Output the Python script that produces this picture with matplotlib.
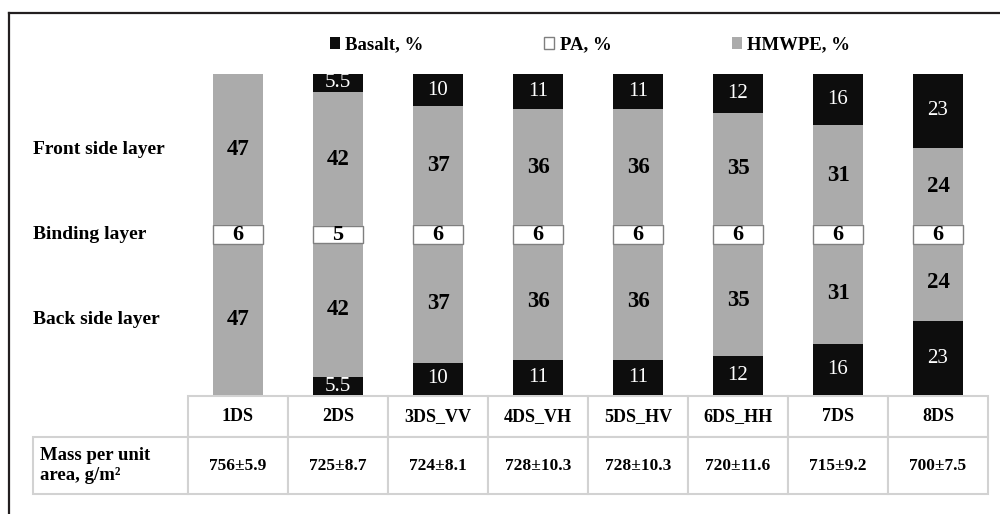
import numpy as np
import matplotlib
matplotlib.use('Agg')
import matplotlib.pyplot as plt
from matplotlib.lines import Line2D

plt.rcParams['font.family'] = ['Liberation Serif', 'DejaVu Serif']

# data
samples = ['1DS', '2DS', '3DS_VV', '4DS_VH', '5DS_HV', '6DS_HH', '7DS', '8DS']
basalt_back = [0, 5.5, 10, 11, 11, 12, 16, 23]
hmwpe_back = [47, 42, 37, 36, 36, 35, 31, 24]
pa_binding = [6, 5, 6, 6, 6, 6, 6, 6]
hmwpe_front = [47, 42, 37, 36, 36, 35, 31, 24]
basalt_front = [0, 5.5, 10, 11, 11, 12, 16, 23]
mass = ['756±5.9', '725±8.7', '724±8.1', '728±10.3',
        '728±10.3', '720±11.6', '715±9.2', '700±7.5']
mass_label = 'Mass per unit\narea, g/m²'
layer_names = ['Back side layer', 'Binding layer', 'Front side layer']
legend_names = ['Basalt, %', 'PA, %', 'HMWPE, %']

BLACK = '#0d0d0d'
GRAY = '#ababab'
W, H = 1000, 514

fig = plt.figure(figsize=(10, 5.14), dpi=100)
# bar area in pixels: x 188..988, y 74..395
ax = fig.add_axes([188 / W, (H - 395) / H, 800 / W, 321 / H])
ax.set_xlim(0, 8)
ax.set_ylim(0, 100)
ax.axis('off')

x = np.arange(len(samples)) + 0.5
layers = [
    (basalt_back, BLACK, 'none', 'white', 'normal', 15),
    (hmwpe_back, GRAY, 'none', 'black', 'bold', 16.5),
    (pa_binding, 'white', '#7f7f7f', 'black', 'bold', 16),
    (hmwpe_front, GRAY, 'none', 'black', 'bold', 16.5),
    (basalt_front, BLACK, 'none', 'white', 'normal', 15),
]
bottom = np.zeros(len(samples))
containers = []
for vals, color, edge, tcolor, weight, fs in layers:
    bars = ax.bar(x, vals, 0.5, bottom=bottom, color=color,
                  edgecolor=edge, linewidth=1.0)
    labels = [f'{v:g}' if v else '' for v in vals]
    ax.bar_label(bars, labels=labels, label_type='center', color=tcolor,
                 fontsize=fs, fontweight=weight)
    containers.append(bars)
    bottom += np.array(vals)

# layer names on the left
layer_y = [hmwpe_back[0] / 2,
           hmwpe_back[0] + pa_binding[0] / 2,
           hmwpe_back[0] + pa_binding[0] + hmwpe_front[0] / 2]
for name, yy in zip(layer_names, layer_y):
    ax.text(-155 / 800, yy, name, transform=ax.get_yaxis_transform(),
            ha='left', va='center', fontsize=14, fontweight='bold')

# legend
fig.legend([containers[0], containers[2], containers[1]], legend_names,
           loc='center', bbox_to_anchor=(590 / W, 1 - 45 / H), ncol=3,
           frameon=False, handlelength=0.55, handleheight=0.55,
           handletextpad=0.3, columnspacing=6.4,
           prop={'weight': 'bold', 'size': 13.5})

# table below bars; first column holds the row label
tbl = ax.table(cellText=[[mass_label] + mass], colLabels=[''] + samples,
               cellLoc='center',
               bbox=[-155 / 800, -99 / 321, 955 / 800, 98 / 321])
tbl.auto_set_font_size(False)
tbl.set_fontsize(13)
for (r, c), cell in tbl.get_celld().items():
    cell.set_edgecolor('#d2d2d2')
    cell.set_linewidth(1.5)
    cell.set_height(41 if r == 0 else 57)
    cell.set_width(155 if c == 0 else 100)
    cell.get_text().set_fontweight('bold')
    if r == 1:
        cell.get_text().set_fontsize(12.5)
    if c == 0:
        if r == 0:
            cell.visible_edges = ''
        else:
            cell._loc = 'left'
            cell.PAD = 0.045
            cell.get_text().set_ha('left')
            cell.get_text().set_fontsize(13.5)
            cell.get_text().set_linespacing(1.2)

# frame (left and top edges)
fig.add_artist(Line2D([8.5 / W, 8.5 / W], [0, 1 - 13 / H], transform=fig.transFigure,
                      color='#231f20', lw=1.6))
fig.add_artist(Line2D([8.5 / W, 1], [1 - 13 / H, 1 - 13 / H], transform=fig.transFigure,
                      color='#231f20', lw=1.6))

fig.savefig('out.png', dpi=100)
